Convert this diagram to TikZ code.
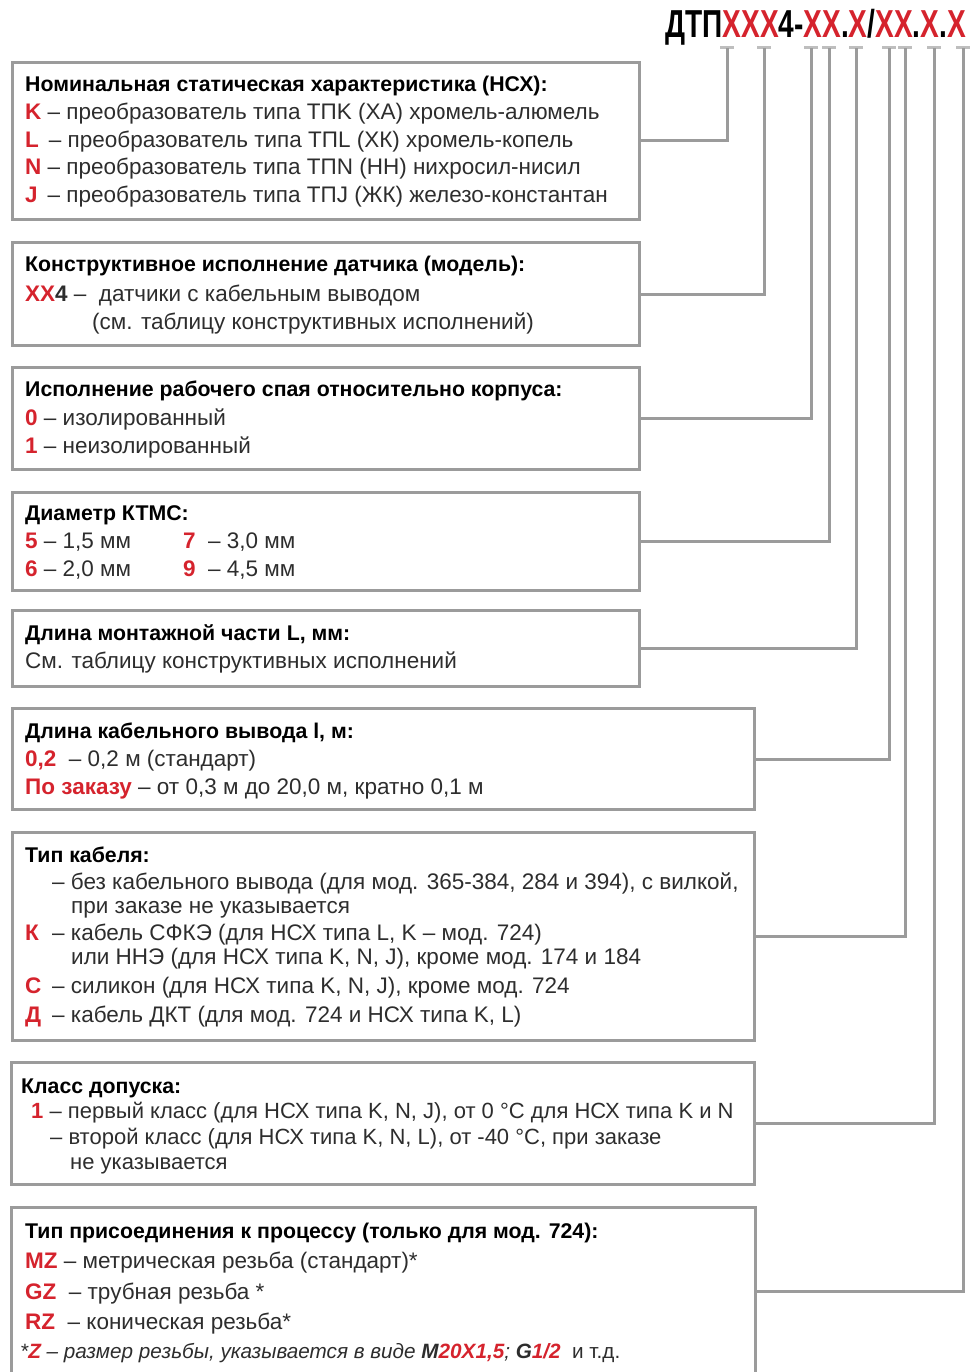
\documentclass[tikz,border=0pt]{standalone}
\usepackage{fontspec}
\usepackage{graphicx}
\setmainfont{Liberation Sans}
\definecolor{codered}{RGB}{213,35,45}
\definecolor{framegray}{RGB}{155,155,155}
\definecolor{tickgray}{RGB}{190,190,190}
\definecolor{txt}{RGB}{45,45,45}
\newcommand{\rd}[1]{\textcolor{codered}{\bfseries #1}}
\newcommand{\keybox}[2][27pt]{\makebox[#1][l]{#2}}
\tikzset{
  frame/.style={draw=framegray, line width=3pt, anchor=north west, inner sep=0pt},
  link/.style={framegray, line width=3pt},
  tick/.style={tickgray, line width=3pt},
  line/.style={anchor=base west, inner sep=0pt, text=txt, font=\fontsize{22.5}{25}\selectfont},
  head/.style={line, text=black, font=\fontsize{21.3}{24}\selectfont\bfseries},
}
\begin{document}
\begin{tikzpicture}[x=1pt, y=-1pt]
  \useasboundingbox (0,0) rectangle (970,1372);

  % order code
  \node[anchor=west, inner sep=0pt] (code) at (665,27)
    {\scalebox{0.72}[1]{\fontsize{39}{39}\selectfont\bfseries
     ДТП\rd{XXX}4-\rd{XX}.\rd{X}/\rd{XX}.\rd{X}.\rd{X}}};

  \coordinate (t1) at (727,48);
  \coordinate (t2) at (764,48);
  \coordinate (t3) at (811,48);
  \coordinate (t4) at (829,48);
  \coordinate (t5) at (856,48);
  \coordinate (t6) at (889,48);
  \coordinate (t7) at (905,48);
  \coordinate (t8) at (934,48);
  \coordinate (t9) at (963,48);
  \foreach \i in {1,...,9}
    \draw[tick] ([xshift=-7pt]t\i) -- ([xshift=7pt]t\i);

  % frames
  \node[frame, minimum width=627pt, minimum height=157pt] (b1) at (11,61) {};
  \node[frame, minimum width=627pt, minimum height=103pt] (b2) at (11,241) {};
  \node[frame, minimum width=627pt, minimum height=102pt] (b3) at (11,366) {};
  \node[frame, minimum width=627pt, minimum height=98pt] (b4) at (11,491) {};
  \node[frame, minimum width=627pt, minimum height=76pt] (b5) at (11,609) {};
  \node[frame, minimum width=742pt, minimum height=101pt] (b6) at (11,707) {};
  \node[frame, minimum width=742pt, minimum height=208pt] (b7) at (11,831) {};
  \node[frame, minimum width=743pt, minimum height=122pt] (b8) at (10,1061) {};
  \node[frame, minimum width=744pt, minimum height=168pt] (b9) at (10,1206) {};

  \draw[link] (b1.east) -| (t1);
  \draw[link] (b2.east) -| (t2);
  \draw[link] (b3.east) -| (t3);
  \draw[link] (b4.east) -| (t4);
  \draw[link] (b5.east) -| (t5);
  \draw[link] (b6.east) -| (t6);
  \draw[link] (b7.east) -| (t7);
  \draw[link] (b8.east) -| (t8);
  \draw[link] (b9.east) -| (t9);

  % texts
  \node[head] (h1) at (25,92) {Номинальная статическая характеристика (НСХ):};
  \node[line] (l1a) at (25,120) {\rd{K} – преобразователь типа ТПK (ХА) хромель-алюмель};
  \node[line] (l1b) at (25,148) {\rd{L}\, – преобразователь типа ТПL (ХК) хромель-копель};
  \node[line] (l1c) at (25,175) {\rd{N} – преобразователь типа ТПN (НН) нихросил-нисил};
  \node[line] (l1d) at (25,203) {\rd{J}\, – преобразователь типа ТПJ (ЖК) железо-константан};

  \node[head] (h2) at (25,271) {Конструктивное исполнение датчика (модель):};
  \node[line] (l2a) at (25,301) {\rd{XX}{\bfseries 4} –\ \ датчики с кабельным выводом};
  \node[line] (l2b) at (92,329) {(см. таблицу конструктивных исполнений)};

  \node[head] (h3) at (25,396) {Исполнение рабочего спая относительно корпуса:};
  \node[line] (l3a) at (25,425) {\rd{0} – изолированный};
  \node[line] (l3b) at (25,453) {\rd{1} – неизолированный};

  \node[head] (h4) at (25,520) {Диаметр КТМС:};
  \node[line] (l4a) at (25,548) {\rd{5} – 1,5 мм};
  \node[line] (l4b) at (183,548) {\rd{7}\ \ – 3,0 мм};
  \node[line] (l4c) at (25,576) {\rd{6} – 2,0 мм};
  \node[line] (l4d) at (183,576) {\rd{9}\ \ – 4,5 мм};

  \node[head] (h5) at (25,640) {Длина монтажной части L, мм:};
  \node[line] (l5a) at (25,668) {См. таблицу конструктивных исполнений};

  \node[head] (h6) at (25,738) {Длина кабельного вывода l, м:};
  \node[line] (l6a) at (25,766) {\rd{0,2}\ \ – 0,2 м (стандарт)};
  \node[line] (l6b) at (25,794) {\rd{По заказу} – от 0,3 м до 20,0 м, кратно 0,1 м};

  \node[head] (h7) at (25,862) {Тип кабеля:};
  \node[line] (l7a) at (25,889) {\keybox{}– без кабельного вывода (для мод. 365-384, 284 и 394), с вилкой,};
  \node[line] (l7b) at (71,913) {при заказе не указывается};
  \node[line] (l7c) at (25,940) {\keybox{\rd{К}}– кабель СФКЭ (для НСХ типа L, K – мод. 724)};
  \node[line] (l7d) at (71,964) {или ННЭ (для НСХ типа K, N, J), кроме мод. 174 и 184};
  \node[line] (l7e) at (25,993) {\keybox{\rd{С}}– силикон (для НСХ типа K, N, J), кроме мод. 724};
  \node[line] (l7f) at (25,1022) {\keybox{\rd{Д}}– кабель ДКТ (для мод. 724 и НСХ типа K, L)};

  \node[head] (h8) at (21,1093) {Класс допуска:};
  \node[line, font=\fontsize{22}{25}\selectfont] (l8a) at (31,1118)
    {\rd{1} – первый класс (для НСХ типа K, N, J), от 0 °C для НСХ типа K и N};
  \node[line, font=\fontsize{22}{25}\selectfont] (l8b) at (50,1144)
    {– второй класс (для НСХ типа K, N, L), от -40 °C, при заказе};
  \node[line, font=\fontsize{22}{25}\selectfont] (l8c) at (70,1169) {не указывается};

  \node[head] (h9) at (25,1238) {Тип присоединения к процессу (только для мод. 724):};
  \node[line] (l9a) at (25,1268) {\rd{MZ} – метрическая резьба (стандарт)*};
  \node[line] (l9b) at (25,1299) {\rd{GZ}\ \ – трубная резьба *};
  \node[line] (l9c) at (25,1329) {\rd{RZ}\ \ – коническая резьба*};
  \node[line, font=\fontsize{20.7}{24}\selectfont] (l9d) at (20,1358)
    {\itshape *\rd{Z} – размер резьбы, указывается в виде
    {\bfseries M}\rd{20X1,5}; {\bfseries G}\rd{1/2}\ \ \upshape и т.д.};
\end{tikzpicture}
\end{document}
